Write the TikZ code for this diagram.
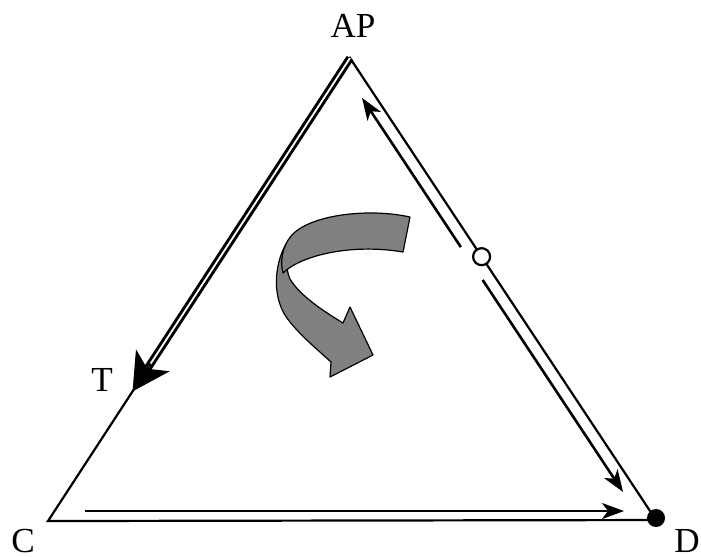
\documentclass[tikz,border=0pt]{standalone}
\usepackage{fontspec}
\setmainfont{Liberation Serif}
\usetikzlibrary{arrows.meta,calc}

\begin{document}
\begin{tikzpicture}[x=0.01cm,y=-0.01cm,
    every node/.style={font=\fontsize{10}{12}\selectfont},
    side/.style={line width=0.022cm},
    arr/.style={-{Stealth[length=0.22cm,width=0.16cm,inset=0.06cm]},line width=0.026cm},
    bigarr/.style={-{Stealth[length=0.37cm,width=0.4cm,inset=0.1cm]},line width=0.02cm},
    src/.style={circle,draw,fill=white,line width=0.022cm,inner sep=0pt,minimum size=0.17cm},
    dot/.style={circle,fill=black,inner sep=0pt,minimum size=0.18cm},
    ribbon/.style={draw,fill=black!50,line width=0.012cm,line join=round}]

  \useasboundingbox (0,0) rectangle (701,556);

  %% corners
  \coordinate (apex) at (350,58);
  \coordinate (c) at (48,521);
  \coordinate (d) at (656,520);

  %% labels
  \node (ap) at (353,26) {AP};
  \node (tl) at (102,380) {T};
  \node (cl) at (23,541) {C};
  \node (dl) at (687,541) {D};

  %% triangle
  \draw[side] (c) -- (apex) -- (d) -- cycle;

  %% apex to T
  \coordinate (t)  at ($(c)!0.28!(apex)$);
  \coordinate (tb) at ($(c)!0.33!(apex)$);
  \coordinate (ts) at ($(c)!0.34!(apex)$);
  \draw[line width=0.03cm,double=white,double distance=0.018cm] (apex) -- (tb);
  \draw[bigarr] (ts) -- (t);

  %% right side, from the open point
  \node[src] (o) at ($(apex)!0.43!(d)$) {};
  \coordinate (ia) at ($(apex)!0.12cm!-90:(d)$);
  \coordinate (id) at ($(d)!0.12cm!90:(apex)$);
  \coordinate (up1) at ($(ia)!0.395!(id)$);
  \coordinate (up2) at ($(ia)!0.072!(id)$);
  \coordinate (dn1) at ($(ia)!0.466!(id)$);
  \coordinate (dn2) at ($(ia)!0.925!(id)$);
  \draw[arr] (up1) -- (up2);
  \draw[arr] (dn1) -- (dn2);

  %% bottom
  \coordinate (b1) at (85,511);
  \coordinate (b2) at (624,511);
  \draw[arr] (b1) -- (b2);
  \node[dot] (dd) at (656,518) {};

  %% turning arrow
  \draw[ribbon] (286,244) .. controls (274,265) and (271,300) .. (290,322)
    .. controls (303,338) and (318,350) .. (331,362) -- (330,377) -- (373,355)
    -- (350,307) -- (343,323) .. controls (325,312) and (300,296) .. (290,279)
    .. controls (286,270) and (286,258) .. (288,250) -- cycle;
  \draw[ribbon] (410,217) .. controls (370,208) and (310,214) .. (291,236)
    .. controls (282,247) and (280,262) .. (283,273)
    .. controls (300,256) and (350,243) .. (403,252) -- cycle;
\end{tikzpicture}
\end{document}
